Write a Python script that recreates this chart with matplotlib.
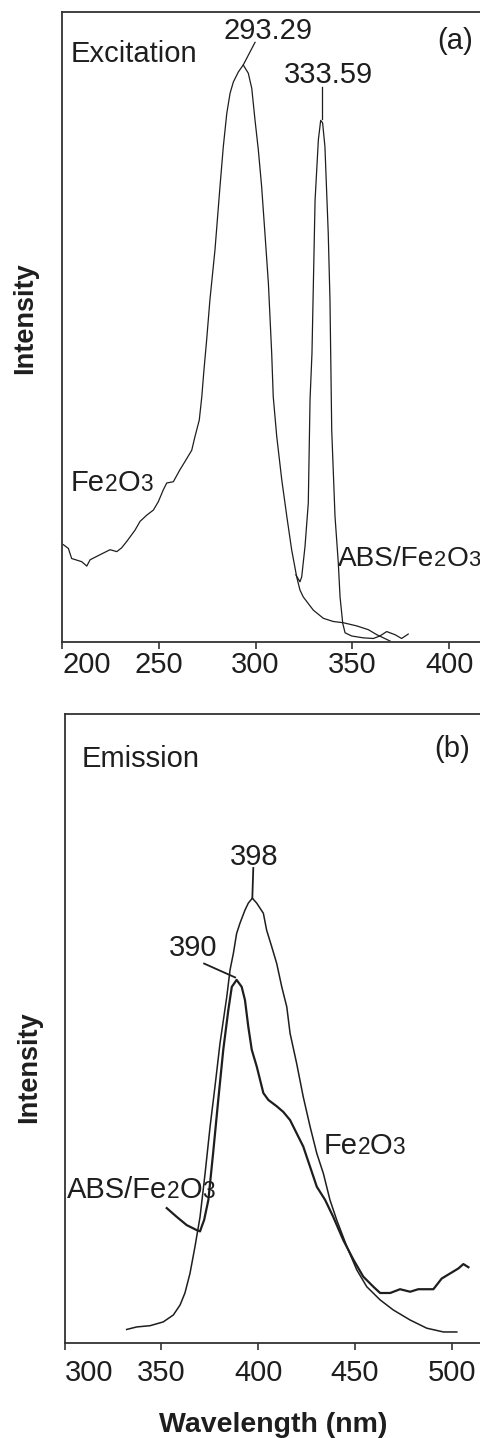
import matplotlib
matplotlib.use("Agg")
import matplotlib.pyplot as plt
import matplotlib.transforms as mtransforms

plt.rcParams['font.family'] = ['Liberation Sans', 'DejaVu Sans']

# (a) excitation spectra, wavelength (nm) / intensity (% of axis height)
exc_fe_wl = [200.7, 203.3, 205.0, 210.2, 212.8, 214.5, 219.6, 224.8, 228.3, 230.8,
             233.4, 237.7, 240.3, 243.8, 247.2, 249.7, 252.3, 254.1, 257.5, 260.9,
             263.5, 267.0, 268.7, 270.9, 272.2, 273.3, 274.7, 276.4, 279.0, 281.6,
             283.3, 285.1, 286.8, 288.5, 291.1, 293.6, 296.2, 298.0, 299.7, 301.4,
             303.1, 304.8, 306.6, 308.3, 309.1, 310.9, 313.5, 316.1, 318.6, 321.2,
             322.9, 324.6, 329.8, 335.0, 340.1, 345.3, 352.2, 358.2, 362.6, 369.4]
exc_fe_int = [15.4, 14.8, 13.2, 12.7, 12.0, 13.0, 13.8, 14.6, 14.3, 14.9,
              15.9, 17.7, 19.1, 20.1, 20.9, 22.2, 24.1, 25.2, 25.4, 27.3,
              28.6, 30.4, 32.6, 35.2, 38.9, 43.1, 47.9, 54.3, 62.2, 72.3,
              78.6, 83.9, 87.1, 88.9, 90.5, 91.6, 90.3, 87.9, 82.8, 78.1,
              72.3, 64.9, 56.9, 45.8, 38.9, 32.6, 25.7, 19.9, 14.6, 10.3,
              8.2, 7.1, 5.0, 3.7, 3.2, 3.0, 2.5, 1.9, 1.1, 0.1]

exc_abs_wl = [320.8, 322.9, 323.8, 325.5, 327.2, 328.1, 329.1, 330.7, 332.4, 333.6,
              334.6, 335.8, 337.5, 338.4, 339.3, 341.0, 342.7, 343.6, 345.0, 346.2,
              349.6, 355.6, 360.8, 364.2, 367.7, 372.0, 375.4, 378.8]
exc_abs_int = [10.6, 9.5, 10.3, 15.1, 22.0, 38.4, 45.8, 70.1, 79.7, 82.8,
               82.4, 78.6, 64.9, 54.3, 33.6, 19.9, 12.5, 7.1, 2.9, 1.4,
               0.9, 0.6, 0.5, 0.9, 1.6, 1.1, 0.5, 1.2]

# (b) emission spectra
em_fe_wl = [332.1, 337.3, 344.2, 351.0, 356.2, 359.7, 362.2, 364.8, 367.4, 370.0,
            372.6, 375.2, 377.7, 380.3, 383.8, 385.5, 387.2, 388.9, 390.6, 393.2,
            394.9, 397.0, 399.3, 402.7, 404.4, 407.0, 409.6, 412.2, 414.8, 416.5,
            419.9, 423.3, 426.8, 430.3, 433.7, 437.1, 440.6, 445.8, 450.9, 456.1,
            463.0, 469.8, 478.5, 487.1, 495.7, 502.6]
em_fe_int = [2.1, 2.5, 2.7, 3.3, 4.4, 6.0, 7.9, 11.0, 15.3, 20.0,
             26.9, 34.4, 40.7, 47.6, 55.0, 59.3, 61.9, 65.1, 66.7, 68.8,
             69.9, 70.7, 69.9, 68.3, 65.6, 63.0, 60.3, 56.6, 53.4, 49.2,
             44.4, 39.1, 34.4, 30.1, 26.9, 22.7, 19.5, 15.3, 11.6, 8.9,
             6.8, 5.2, 3.6, 2.3, 1.7, 1.7]

em_abs_wl = [352.8, 358.0, 363.1, 368.3, 370.0, 370.9, 372.1, 374.3, 376.9, 379.4,
             382.0, 384.6, 386.4, 388.9, 391.5, 393.2, 394.9, 396.7, 399.3, 402.7,
             405.3, 409.6, 413.0, 416.5, 419.9, 423.3, 426.8, 430.3, 434.6, 438.8,
             444.0, 449.2, 454.3, 459.5, 463.0, 468.2, 473.3, 478.5, 482.7, 490.5,
             494.8, 499.1, 503.4, 506.0, 508.6]
em_abs_int = [21.4, 20.0, 18.7, 17.9, 17.7, 18.5, 19.5, 22.7, 30.6, 38.6,
              46.6, 52.9, 56.6, 57.7, 56.6, 54.5, 50.3, 46.6, 43.9, 39.7,
              38.6, 37.6, 36.7, 35.4, 33.3, 31.2, 28.0, 24.8, 22.7, 20.0,
              16.3, 13.2, 10.5, 8.9, 7.9, 7.9, 8.5, 8.1, 8.5, 8.5,
              10.2, 11.0, 11.8, 12.5, 12.0]

ticks_a = [200, 250, 300, 350, 400]
ticks_b = [300, 350, 400, 450, 500]

INK = '#1e1e1e'
FS = 21

fig = plt.figure(figsize=(4.81, 14.38), dpi=100)
renderer = fig.canvas.get_renderer()

ax1 = fig.add_axes([0.1289, 0.5538, 0.8711, 0.4378])
ax2 = fig.add_axes([0.1341, 0.0663, 0.8659, 0.4372])


def chem(ax, x, y, parts, transform, size=FS):
    # formula with the digits set smaller on the baseline, like the original
    off = 0.0
    for s, small in parts:
        tr = mtransforms.offset_copy(transform, fig=fig, x=off, y=0, units='dots')
        t = ax.text(x, y, s, transform=tr, fontsize=size * (0.78 if small else 1.0),
                    ha='left', va='baseline', color=INK, clip_on=False)
        off += t.get_window_extent(renderer).width


FE2O3 = [('Fe', False), ('2', True), ('O', False), ('3', True)]
ABS_FE2O3 = [('ABS/Fe', False), ('2', True), ('O', False), ('3', True)]


def style(ax, ticks, xlim, pad):
    ax.set_xlim(*xlim)
    ax.set_ylim(0, 100)
    ax.set_xticks(ticks)
    ax.set_yticks([])
    ax.spines['right'].set_visible(False)
    for s in ('left', 'bottom', 'top'):
        ax.spines[s].set_linewidth(1.3)
        ax.spines[s].set_color('#333333')
    ax.tick_params(axis='x', direction='out', length=5, width=1.2, color='#333333',
                   labelsize=FS, labelcolor=INK, pad=pad)
    ax.get_xticklabels()[0].set_horizontalalignment('left')
    ax.set_ylabel('Intensity', fontsize=19.5, fontweight='bold', color=INK,
                  va='center', ha='center')


# (a)
ax1.plot(exc_fe_wl, exc_fe_int, color=INK, lw=0.9)
ax1.plot(exc_abs_wl, exc_abs_int, color=INK, lw=0.9)
style(ax1, ticks_a, (200, 416.4), 1.5)
ax1.yaxis.set_label_coords(-0.088, 0.514)

ax1.text(0.021, 0.921, 'Excitation', transform=ax1.transAxes, fontsize=FS, color=INK,
         va='baseline')
ax1.text(402.9, 94.1, '(a)', fontsize=FS, color=INK, ha='center', va='baseline')
ax1.text(306.5, 95.8, '293.29', fontsize=FS, color=INK, ha='center', va='baseline')
ax1.plot([299.7, 293.6], [95.2, 91.6], color=INK, lw=0.9)
ax1.text(337.5, 88.8, '333.59', fontsize=FS, color=INK, ha='center', va='baseline')
ax1.plot([334.1, 334.1], [88.1, 83.0], color=INK, lw=0.9)
chem(ax1, 204.5, 23.9, FE2O3, ax1.transData)
chem(ax1, 342.6, 12.0, ABS_FE2O3, ax1.transData, size=20.2)

# (b)
ax2.plot(em_fe_wl, em_fe_int, color=INK, lw=1.1)
ax2.plot(em_abs_wl, em_abs_int, color=INK, lw=1.6)
style(ax2, ticks_b, (300, 515.1), 6.5)
ax2.yaxis.set_label_coords(-0.084, 0.4385)
ax2.set_xlabel('Wavelength (nm)', fontsize=20.5, fontweight='bold', color=INK, labelpad=18)

ax2.text(0.041, 0.915, 'Emission', transform=ax2.transAxes, fontsize=FS, color=INK,
         va='baseline')
ax2.text(500.4, 93.2, '(b)', fontsize=FS, color=INK, ha='center', va='baseline')
ax2.text(397.8, 76.0, '398', fontsize=FS, color=INK, ha='center', va='baseline')
ax2.plot([397.5, 397.0], [75.5, 70.7], color=INK, lw=1.3)
ax2.text(366.3, 61.5, '390', fontsize=FS, color=INK, ha='center', va='baseline')
ax2.plot([372.1, 388.1], [60.3, 58.1], color=INK, lw=1.3)
chem(ax2, 433.7, 30.0, FE2O3, ax2.transData)
chem(ax2, 301.1, 23.0, ABS_FE2O3, ax2.transData)

fig.savefig('out.png', dpi=100)
